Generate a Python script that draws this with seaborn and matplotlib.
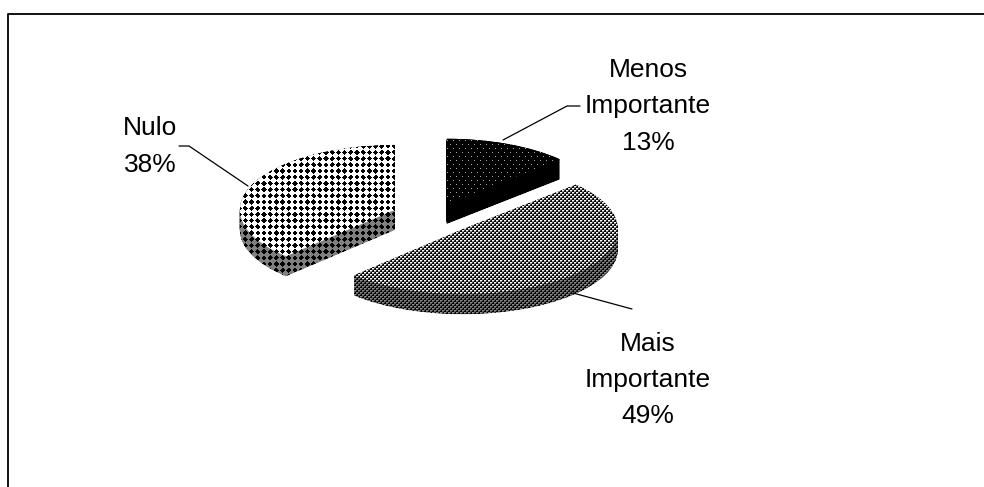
import numpy as np
import matplotlib
matplotlib.use("Agg")
import matplotlib.pyplot as plt
from matplotlib.path import Path
import seaborn as sns

categories = ["Menos\nImportante", "Mais\nImportante", "Nulo"]
shares = [13.0, 49.4, 37.6]

sns.set_theme(style="white")
plt.rcParams["font.family"] = ["Liberation Sans", "DejaVu Sans"]

W, H = 984, 487
CX, CY, RX, RY = 433.6, 216.6, 155.0, 65.0
DEPTH = 20.0 / RY


def px(x, y):
    return (x - CX) / RX, (CY - y) / RY


fig = plt.figure(figsize=(W / 100, H / 100), dpi=100, facecolor="white")
ax = fig.add_axes([0, 0, 1, 1])
wedges, _ = ax.pie(shares, explode=[0.215, 0.27, 0.27], startangle=90,
                   counterclock=False, radius=1,
                   colors=["none"] * 3, wedgeprops={"linewidth": 0})
ax.set_aspect("auto")

yy, xx = np.mgrid[0:H, 0:W]


def nulo(bg):
    img = np.full((H, W), bg, float)
    dx = (xx % 6.2) - 3.1
    dy = (yy % 6.2) - 3.1
    img[np.abs(dx) + np.abs(dy) < 2.7] = 0
    return img


def mais(light):
    tile = np.array([[light, light, 0.3, 0.0],
                     [0.6 * light, 0.5 * light, 0.0, 0.0],
                     [0.3, 0.0, light, light],
                     [0.0, 0.0, 0.6 * light, 0.5 * light]])
    return tile[yy % 4, xx % 4]


def menos(spot):
    img = np.zeros((H, W))
    img[(xx % 6 == 0) & (yy % 8 == 0)] = spot
    img[(xx % 6 == 3) & (yy % 8 == 4)] = spot
    return img


tops = [menos(0.65), mais(1.0), nulo(1.0)]
walls = [menos(0.0), mais(0.55), nulo(0.5)]

extent = (px(0, H)[0], px(W, 0)[0], px(0, H)[1], px(0, 0)[1])
for w, top, wall in zip(wedges, tops, walls):
    base = w.get_patch_transform().transform_path(w.get_path())
    sweep = []
    for d in np.linspace(0, DEPTH, 41):
        sweep.append(Path(base.vertices - [0, d], base.codes))
    clip_wall = Path.make_compound_path(*sweep)
    im = ax.imshow(wall, cmap="gray", vmin=0, vmax=1, extent=extent,
                   aspect="auto", interpolation="nearest", zorder=2)
    im.set_clip_path(clip_wall, ax.transData)
    im = ax.imshow(top, cmap="gray", vmin=0, vmax=1, extent=extent,
                   aspect="auto", interpolation="nearest", zorder=3)
    im.set_clip_path(base, ax.transData)

ax.set_xlim(px(0, 0)[0], px(W, 0)[0])
ax.set_ylim(px(0, H)[1], px(0, 0)[1])
ax.axis("off")

# chart frame
fx, fy = zip(*[px(7.5, H), px(7.5, 13.5), px(W, 13.5)])
ax.plot(fx, fy, color="black", lw=1.3, zorder=5, clip_on=False)

# leader lines
for pts in ([(503, 140), (567, 106), (580, 106)],
            [(573, 293), (632, 309)],
            [(248, 186), (189, 146), (179, 146)]):
    lx, ly = zip(*[px(*p) for p in pts])
    ax.plot(lx, ly, color="black", lw=0.9, zorder=5)

# labels
anchors = [(648, 106.5), (648, 380), (150, 146.5)]
for name, share, (x, y) in zip(categories, shares, anchors):
    tx, ty = px(x, y)
    ax.text(tx, ty, f"{name}\n{round(share)}%", ha="center", va="center",
            fontsize=19, color="black", linespacing=1.65, zorder=6)

fig.savefig("out.png", dpi=100, facecolor="white")
